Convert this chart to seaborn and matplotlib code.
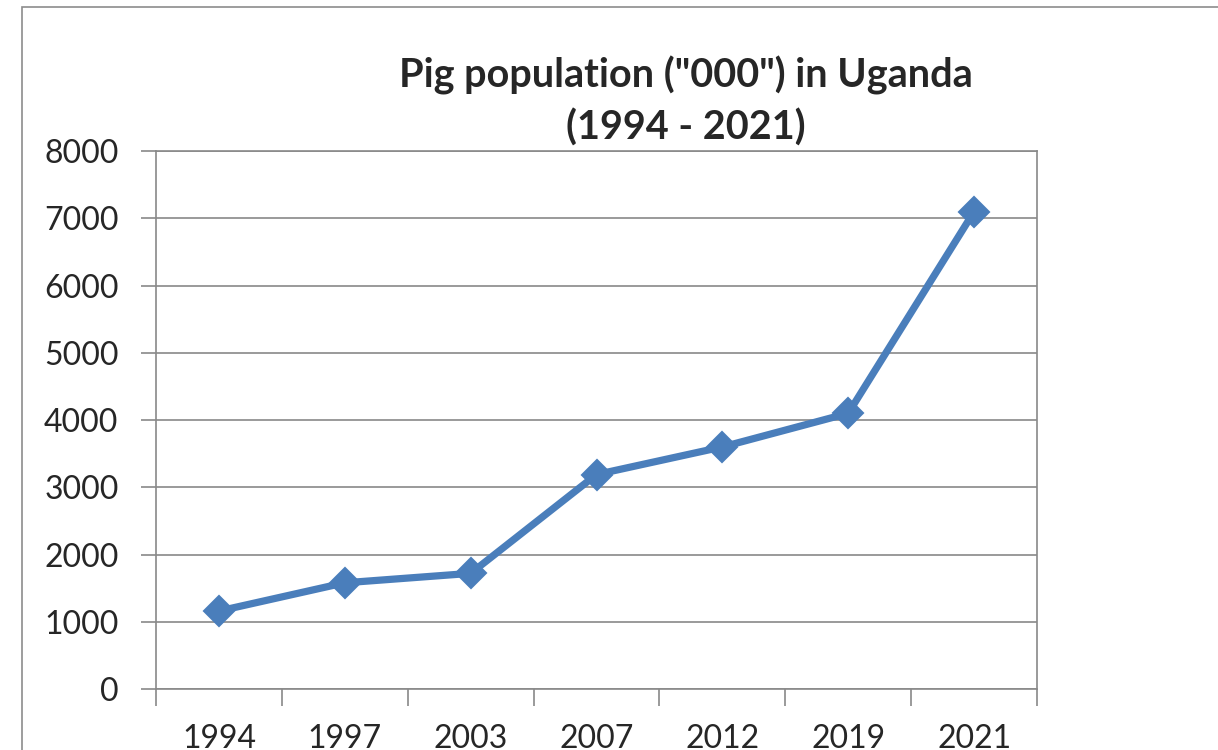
import matplotlib
matplotlib.use("Agg")
import matplotlib.pyplot as plt
import seaborn as sns
import pandas as pd
from matplotlib.patches import Rectangle

# Values (thousands of pigs)
years = ["1994", "1997", "2003", "2007", "2012", "2019", "2021"]
pigs = [1160, 1580, 1720, 3190, 3600, 4100, 7100]
y_ticks = [0, 1000, 2000, 3000, 4000, 5000, 6000, 7000, 8000]

sns.set_style("white")
plt.rcParams["font.family"] = ["Lato", "DejaVu Sans"]

grey = "#898989"
blue = "#4A7EBB"

data = pd.DataFrame({"year": years, "pigs": pigs})

fig = plt.figure(figsize=(12.18, 7.5), dpi=100)
ax = fig.add_axes([0.1281, 0.0813, 0.7233, 0.7173])

# Outer chart frame (cut off at right and bottom like the screenshot)
fig.patches.append(Rectangle((22 / 1218, -0.1), 1.2, 0.1 + 743 / 750,
                             transform=fig.transFigure, fill=False,
                             edgecolor="#8c8c8c", linewidth=1.2))

sns.lineplot(data=data, x="year", y="pigs", ax=ax, color=blue, linewidth=5.2,
             marker="D", markersize=15, markeredgecolor=blue,
             markeredgewidth=1.5, sort=False)

ax.set_xlim(-0.5, len(years) - 0.5)
ax.set_ylim(0, 8000)
ax.set_yticks(y_ticks)
ax.set_yticklabels([str(v) for v in y_ticks])
ax.yaxis.grid(True, color=grey, linewidth=1.2)
ax.set_axisbelow(True)

# Tick marks sit between categories; labels stay centred
ax.set_xticks([i - 0.5 for i in range(len(years) + 1)], minor=True)
ax.tick_params(axis="x", which="minor", length=12, width=1.2, color=grey,
               direction="out", bottom=True)
ax.tick_params(axis="x", which="major", length=0, pad=25, labelsize=23)
ax.tick_params(axis="y", which="major", length=11, width=1.2, color=grey,
               direction="out", left=True, labelsize=23, pad=16)

for s in ax.spines.values():
    s.set_visible(True)
    s.set_color(grey)
    s.set_linewidth(1.2)

ax.set_xlabel("")
ax.set_ylabel("")

fig.text(686 / 1218, 1 - 75 / 750, 'Pig population ("000") in Uganda',
         ha="center", va="center", fontsize=28.5, fontweight="bold")
fig.text(686 / 1218, 1 - 128 / 750, "(1994 - 2021)",
         ha="center", va="center", fontsize=28.5, fontweight="bold")

fig.savefig("out.png", dpi=100, facecolor="white")
